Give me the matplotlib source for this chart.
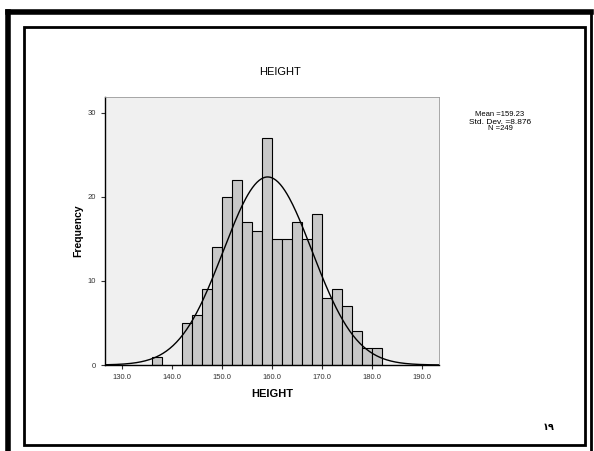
import numpy as np
import matplotlib.pyplot as plt
from matplotlib.patches import Rectangle

# histogram of HEIGHT, bins of width 2
bin_left = [136, 142, 144, 146, 148, 150, 152, 154, 156, 158, 160,
            162, 164, 166, 168, 170, 172, 174, 176, 178, 180]
counts = [1, 5, 6, 9, 14, 20, 22, 17, 16, 27, 15,
          15, 17, 15, 18, 8, 9, 7, 4, 2, 2]
bin_width = 2
mean = 159.23
std = 8.876
n = 249
xticks = [130, 140, 150, 160, 170, 180, 190]
yticks = [0, 10, 20, 30]

fig = plt.figure(figsize=(5.94, 4.51), dpi=100)
plt.rcParams['font.family'] = ['Liberation Sans', 'DejaVu Sans']

# page frames
fig.add_artist(plt.Line2D([7.5 / 594, 7.5 / 594], [0, 1 - 12 / 451], transform=fig.transFigure,
                          color='black', lw=4))
fig.add_artist(plt.Line2D([7.5 / 594, 591 / 594], [1 - 12 / 451, 1 - 12 / 451],
                          transform=fig.transFigure, color='black', lw=4))
fig.add_artist(plt.Line2D([591 / 594, 591 / 594], [0, 1 - 12 / 451], transform=fig.transFigure,
                          color='black', lw=2))
fig.add_artist(Rectangle((24 / 594, 1 - 445 / 451), (585 - 24) / 594, (445 - 27) / 451,
                         transform=fig.transFigure, fill=False, ec='black', lw=2))

ax = fig.add_axes([105 / 594, 1 - 365 / 451, 334 / 594, 268 / 451])
ax.set_facecolor('#f0f0f0')
ax.bar(bin_left, counts, width=bin_width, align='edge', color='#c8c8c8',
       edgecolor='black', linewidth=0.8)

xs = np.linspace(126.7, 193.5, 300)
curve = n * bin_width / (std * np.sqrt(2 * np.pi)) * np.exp(-0.5 * ((xs - mean) / std) ** 2)
ax.plot(xs, curve, color='black', lw=1.0)

ax.set_xlim(126.7, 193.5)
ax.set_ylim(0, 31.9)
ax.set_xticks(xticks)
ax.set_xticklabels([f'{t:.1f}' for t in xticks])
ax.set_yticks(yticks)
ax.tick_params(labelsize=5.5, length=3, width=0.8, colors='#333333')
for s in ['top', 'right']:
    ax.spines[s].set_color('#999999')
    ax.spines[s].set_linewidth(0.6)
for s in ['left', 'bottom']:
    ax.spines[s].set_linewidth(1.0)
ax.set_xlabel('HEIGHT', fontsize=8, fontweight='bold', labelpad=6)
ax.set_ylabel('Frequency', fontsize=7.5, fontweight='bold', labelpad=3)

fig.text(280 / 594, 1 - 72 / 451, 'HEIGHT', fontsize=8, ha='center', va='center')
fig.text(500 / 594, 1 - 115 / 451, f'Mean ={mean}', fontsize=5.5, ha='center', va='center')
fig.text(500 / 594, 1 - 122 / 451, f'Std. Dev. ={std}', fontsize=6, ha='center', va='center')
fig.text(500 / 594, 1 - 129 / 451, f'N ={n}', fontsize=5.5, ha='center', va='center')
fig.text(549 / 594, 1 - 427 / 451, '\u0661\u0669', fontsize=7, fontweight='bold',
         ha='center', va='center', family=['DejaVu Sans'])

fig.savefig('out.png', dpi=100)
